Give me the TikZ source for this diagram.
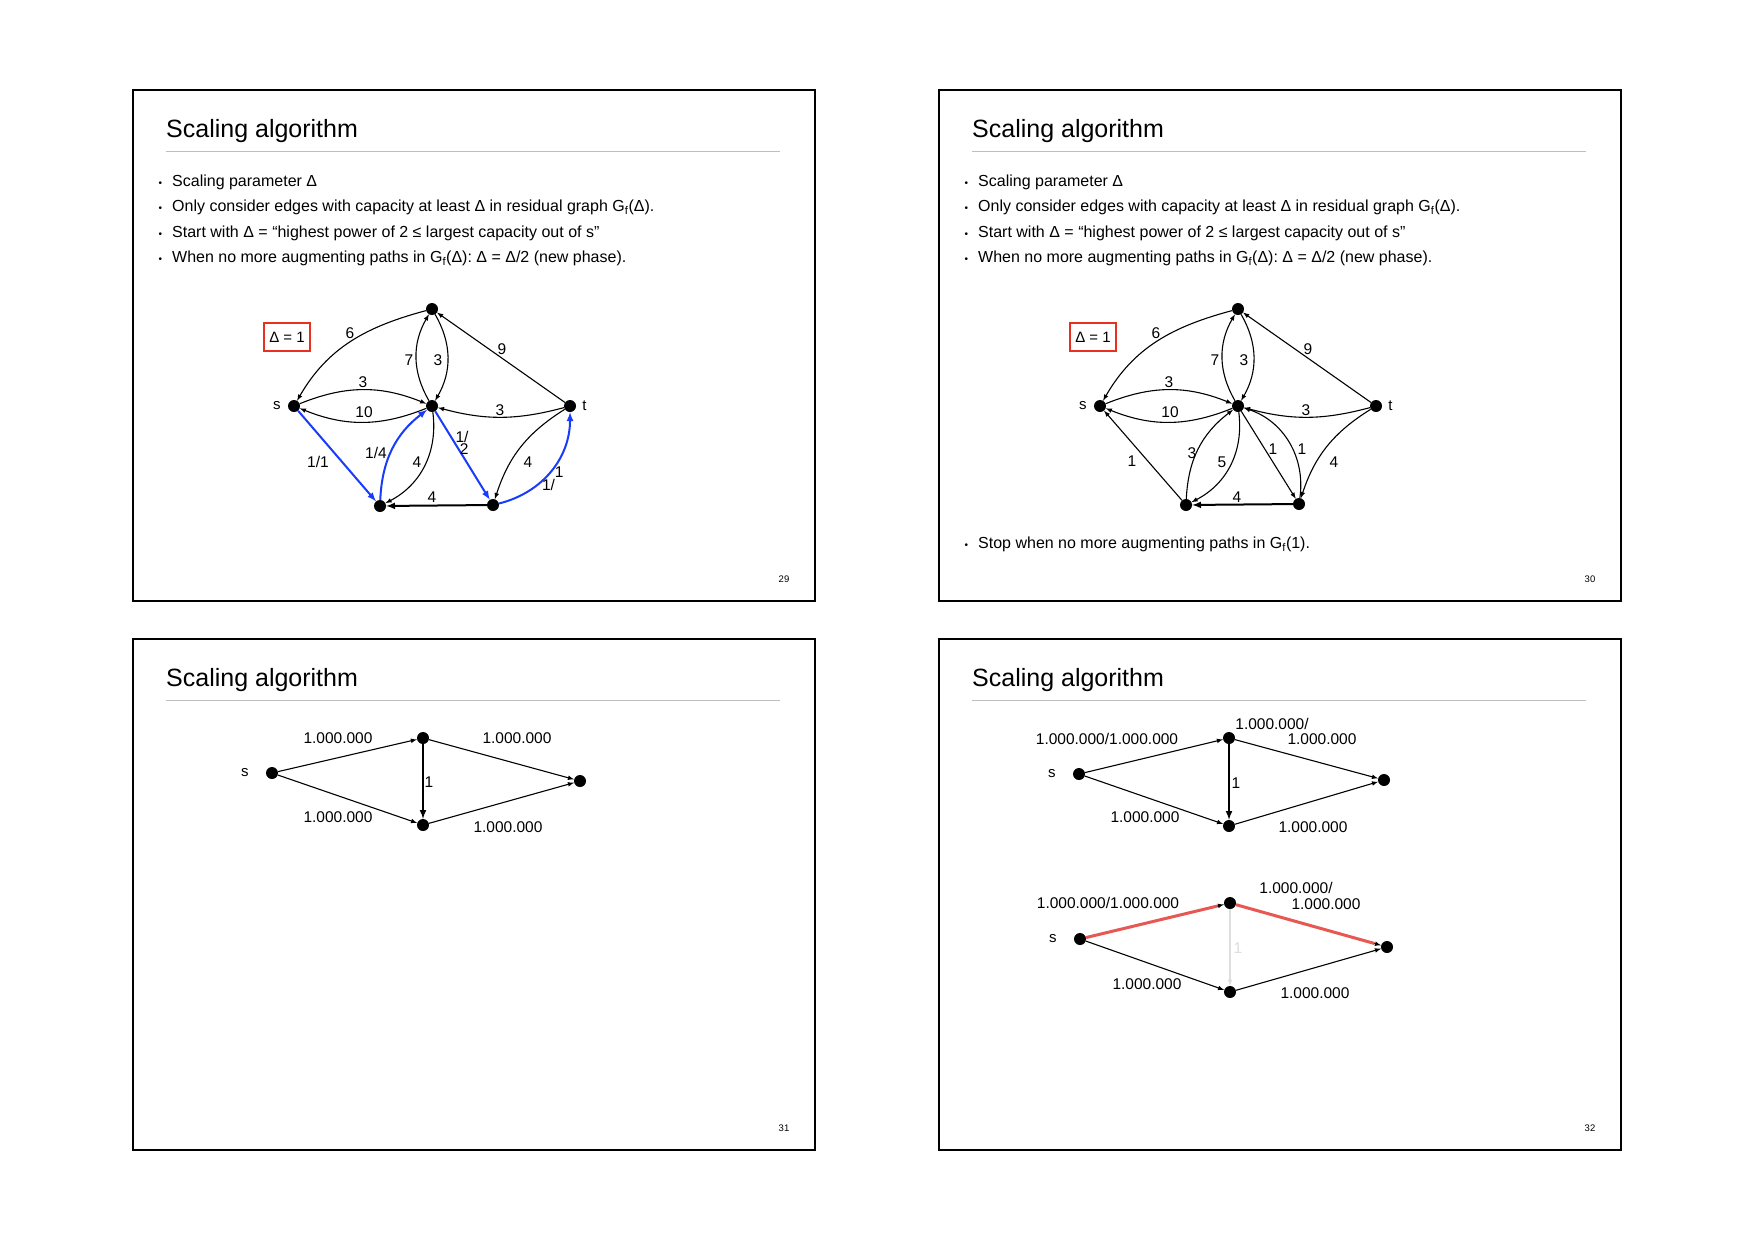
\documentclass[tikz,border=0pt]{standalone}
\usepackage{fontspec}
\setmainfont{Liberation Sans}
\usetikzlibrary{positioning}

\definecolor{pathblue}{RGB}{25,60,250}
\definecolor{deltared}{RGB}{232,48,32}
\definecolor{augred}{RGB}{232,88,82}
\definecolor{rulegray}{RGB}{190,190,190}
\definecolor{fadegray}{RGB}{222,222,222}

\newcommand{\Gf}{G\textsubscript{f}}
\newcommand{\itembullet}{\makebox[0pt][r]{\fontsize{10}{10}\selectfont\textbullet\hspace{10pt}}}

\tikzset{
	frame/.style = {draw = black, line width = 1.3pt},
	titletext/.style = {anchor = base west, inner sep = 0pt, font = \fontsize{25}{30}\selectfont},
	titlerule/.style = {draw = rulegray, line width = 1pt},
	item/.style = {anchor = base west, inner sep = 0pt, font = \fontsize{16}{19}\selectfont},
	pageno/.style = {inner sep = 0pt, font = \fontsize{9.5}{11}\selectfont},
	vtx/.style = {circle, fill = black, inner sep = 0pt, minimum size = 12pt},
	vname/.style = {inner sep = 0pt, font = \fontsize{15}{18}\selectfont},
	lbl/.style = {inner sep = 0pt, font = \fontsize{15.5}{18}\selectfont},
	link/.style = {->, line width = 1.1pt},
	heavy/.style = {->, line width = 2pt},
	aug/.style = {->, draw = pathblue, line width = 2pt},
	hilite/.style = {draw = augred, line width = 3pt},
	faded/.style = {->, draw = fadegray, line width = 1.1pt},
	deltabox/.style = {draw = deltared, line width = 1.5pt, minimum width = 46pt, minimum height = 28pt, inner sep = 0pt, font = \fontsize{15}{18}\selectfont}
}

\begin{document}
\begin{tikzpicture}[x = 1pt, y = -1pt, > = latex]

	\fill [white] (0, 0) rectangle (1755, 1240);
	\useasboundingbox (0, 0) rectangle (1755, 1240);

	% Slide 29

	\draw [frame] (133, 90) rectangle (815, 601);
	\node [titletext] (title1) at (166, 137) {Scaling algorithm};
	\draw [titlerule] (166, 151) -- (780, 151);
	\node [item] (item11) at (172, 186) {\itembullet Scaling parameter Δ};
	\node [item] (item12) at (172, 211.5) {\itembullet Only consider edges with capacity at least Δ in residual graph \Gf(Δ).};
	\node [item] (item13) at (172, 237) {\itembullet Start with Δ = “highest power of 2 ≤ largest capacity out of s”};
	\node [item] (item14) at (172, 262.5) {\itembullet When no more augmenting paths in \Gf(Δ): Δ = Δ/2 (new phase).};
	\node [pageno] (page1) at (784, 579) {29};

	\node [deltabox] (delta1) at (287, 337) {Δ = 1};

	\node [vtx] (s1) at (294, 406) {};
	\node [vtx] (top1) at (432, 309) {};
	\node [vtx] (mid1) at (432, 406) {};
	\node [vtx] (t1) at (570, 406) {};
	\node [vtx] (bl1) at (380, 506) {};
	\node [vtx] (br1) at (493, 505) {};
	\node [vname, left = 7pt of s1] (sname1) {s};
	\node [vname, right = 6pt of t1] (tname1) {t};

	\draw [link] (top1) to [out = 195, in = 60] (s1) node [lbl] at (350, 333) {6};
	\draw [link] (t1) -- (top1) node [lbl] at (502, 349) {9};
	\draw [link] (mid1) to [bend left = 30] (top1) node [lbl] at (409, 360) {7};
	\draw [link] (top1) to [bend left = 30] (mid1) node [lbl] at (438, 360) {3};
	\draw [link] (s1) to [bend left = 22] (mid1) node [lbl] at (363, 382) {3};
	\draw [link] (mid1) to [bend left = 22] (s1) node [lbl] at (364, 412) {10};
	\draw [link] (t1) to [bend left = 15] (mid1) node [lbl] at (500, 410) {3};
	\draw [link] (mid1) to [bend left = 35] (bl1) node [lbl] at (417, 462) {4};
	\draw [link] (t1) to [bend right = 20] (br1) node [lbl] at (528, 462) {4};
	\draw [heavy] (br1) -- (bl1) node [lbl] at (432, 497) {4};

	% augmenting path
	\draw [aug] (s1) -- (bl1) node [lbl] at (318, 462) {1/1};
	\draw [aug] (bl1) to [bend left = 25] (mid1) node [lbl] at (376, 453) {1/4};
	\draw [aug] (mid1) -- (br1) node [lbl, align = right, font = \fontsize{15.5}{12.6}\selectfont] at (462, 443) {1/\\2};
	\draw [aug] (br1) to [bend right = 38] (t1) node [lbl, anchor = base west] at (541, 490) {1/\raisebox{13pt}{1}};

	% Slide 30

	\draw [frame] (939, 90) rectangle (1621, 601);
	\node [titletext] (title2) at (972, 137) {Scaling algorithm};
	\draw [titlerule] (972, 151) -- (1586, 151);
	\node [item] (item21) at (978, 186) {\itembullet Scaling parameter Δ};
	\node [item] (item22) at (978, 211.5) {\itembullet Only consider edges with capacity at least Δ in residual graph \Gf(Δ).};
	\node [item] (item23) at (978, 237) {\itembullet Start with Δ = “highest power of 2 ≤ largest capacity out of s”};
	\node [item] (item24) at (978, 262.5) {\itembullet When no more augmenting paths in \Gf(Δ): Δ = Δ/2 (new phase).};
	\node [item] (item25) at (978, 548.5) {\itembullet Stop when no more augmenting paths in \Gf(1).};
	\node [pageno] (page2) at (1590, 579) {30};

	\node [deltabox] (delta2) at (1093, 337) {Δ = 1};

	\node [vtx] (s2) at (1100, 406) {};
	\node [vtx] (top2) at (1238, 309) {};
	\node [vtx] (mid2) at (1238, 406) {};
	\node [vtx] (t2) at (1376, 406) {};
	\node [vtx] (bl2) at (1186, 505) {};
	\node [vtx] (br2) at (1299, 504) {};
	\node [vname, left = 7pt of s2] (sname2) {s};
	\node [vname, right = 6pt of t2] (tname2) {t};

	\draw [link] (top2) to [out = 195, in = 60] (s2) node [lbl] at (1156, 333) {6};
	\draw [link] (t2) -- (top2) node [lbl] at (1308, 349) {9};
	\draw [link] (mid2) to [bend left = 30] (top2) node [lbl] at (1215, 360) {7};
	\draw [link] (top2) to [bend left = 30] (mid2) node [lbl] at (1244, 360) {3};
	\draw [link] (s2) to [bend left = 22] (mid2) node [lbl] at (1169, 382) {3};
	\draw [link] (mid2) to [bend left = 22] (s2) node [lbl] at (1170, 412) {10};
	\draw [link] (t2) to [bend left = 15] (mid2) node [lbl] at (1306, 410) {3};
	\draw [link] (bl2) -- (s2) node [lbl] at (1132, 461) {1};
	\draw [link] (bl2) to [bend left = 25] (mid2) node [lbl] at (1192, 453) {3};
	\draw [link] (mid2) to [bend left = 35] (bl2) node [lbl] at (1222, 462) {5};
	\draw [link] (mid2) -- (br2) node [lbl] at (1273, 449) {1};
	\draw [link] (br2) to [bend right = 40] (mid2) node [lbl] at (1302, 449) {1};
	\draw [link] (t2) to [bend right = 20] (br2) node [lbl] at (1334, 462) {4};
	\draw [heavy] (br2) -- (bl2) node [lbl] at (1237, 497) {4};

	% Slide 31

	\draw [frame] (133, 639) rectangle (815, 1150);
	\node [titletext] (title3) at (166, 686) {Scaling algorithm};
	\draw [titlerule] (166, 700) -- (780, 700);
	\node [pageno] (page3) at (784, 1128) {31};

	\node [vtx] (s3) at (272, 773) {};
	\node [vtx] (a3) at (423, 738) {};
	\node [vtx] (b3) at (423, 825) {};
	\node [vtx] (t3) at (580, 781) {};
	\node [vname, left = 17pt of s3] (sname3) {s};

	\draw [link] (s3) -- (a3) node [lbl] at (338, 738) {1.000.000};
	\draw [link] (a3) -- (t3) node [lbl] at (517, 738) {1.000.000};
	\draw [link] (s3) -- (b3) node [lbl] at (338, 817) {1.000.000};
	\draw [link] (b3) -- (t3) node [lbl] at (508, 827) {1.000.000};
	\draw [heavy] (a3) -- (b3) node [lbl] at (429, 782) {1};

	% Slide 32

	\draw [frame] (939, 639) rectangle (1621, 1150);
	\node [titletext] (title4) at (972, 686) {Scaling algorithm};
	\draw [titlerule] (972, 700) -- (1586, 700);
	\node [pageno] (page4) at (1590, 1128) {32};

	% flow after first path
	\node [vtx] (s4) at (1079, 774) {};
	\node [vtx] (a4) at (1229, 738) {};
	\node [vtx] (b4) at (1229, 826) {};
	\node [vtx] (t4) at (1384, 780) {};
	\node [vname, left = 17pt of s4] (sname4) {s};

	\draw [link] (s4) -- (a4) node [lbl] at (1107, 739) {1.000.000/1.000.000};
	\draw [link] (a4) -- (t4) node [lbl] at (1272, 724) {1.000.000/} node [lbl] at (1322, 739) {1.000.000};
	\draw [link] (s4) -- (b4) node [lbl] at (1145, 817) {1.000.000};
	\draw [link] (b4) -- (t4) node [lbl] at (1313, 827) {1.000.000};
	\draw [heavy] (a4) -- (b4) node [lbl] at (1236, 783) {1};

	% residual graph, path s-a-t
	\node [vtx] (s5) at (1080, 939) {};
	\node [vtx] (a5) at (1230, 903) {};
	\node [vtx] (b5) at (1230, 992) {};
	\node [vtx] (t5) at (1387, 947) {};
	\node [vname, left = 17pt of s5] (sname5) {s};

	\draw [link] (s5) -- (a5) node [lbl] at (1108, 903) {1.000.000/1.000.000};
	\draw [link] (a5) -- (t5) node [lbl] at (1296, 888) {1.000.000/} node [lbl] at (1326, 904) {1.000.000};
	\draw [link] (s5) -- (b5) node [lbl] at (1147, 984) {1.000.000};
	\draw [link] (b5) -- (t5) node [lbl] at (1315, 993) {1.000.000};
	\draw [faded] (a5) -- (b5) node [lbl, text = fadegray] at (1238, 948) {1};
	\draw [hilite, shorten > = 7pt] (s5) -- (a5);
	\draw [hilite, shorten > = 7pt] (a5) -- (t5);

\end{tikzpicture}
\end{document}
